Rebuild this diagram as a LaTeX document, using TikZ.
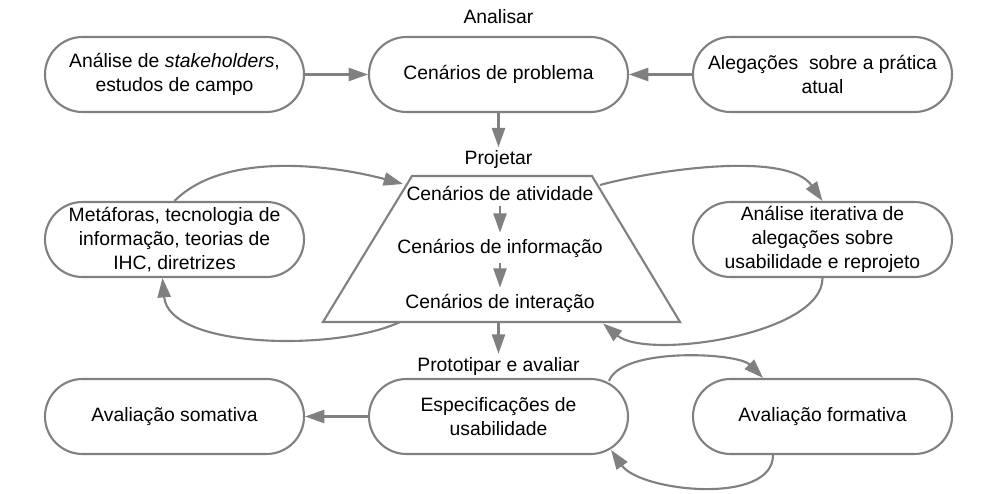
\documentclass[tikz,border=0pt]{standalone}
\usepackage{fontspec}
\setmainfont{Liberation Sans}
\usetikzlibrary{arrows.meta}
\definecolor{linegray}{RGB}{128,128,128}

\begin{document}
\begin{tikzpicture}[
  font=\fontsize{11}{13.5}\selectfont,
  box/.style={draw=linegray,line width=1.2pt,rounded corners=0.75cm,minimum width=5.18cm,minimum height=1.5cm,align=center,inner sep=0pt},
  flow/.style={draw=linegray,line width=1.2pt,-{Triangle[length=11pt,width=7.5pt]}},
  phase/.style={inner sep=2pt}
]
\useasboundingbox (0,0) rectangle (20,-9.88);
% Analisar
\node[phase] (analisar) at (9.97,-0.34) {Analisar};
\node[box] (stake) at (3.49,-1.49) {Análise de \textit{stakeholders},\\estudos de campo};
\node[box] (prob) at (9.97,-1.49) {Cenários de problema};
\node[box] (aleg) at (16.45,-1.49) {Alegações\ \ sobre a prática\\atual};
\draw[flow] (stake) -- (prob);
\draw[flow] (aleg) -- (prob);
% Projetar
\node[phase] (projetar) at (9.97,-3.2) {Projetar};
\draw[flow] (prob) -- (projetar);
\coordinate (tl) at (8.24,-3.52);
\coordinate (tr) at (11.84,-3.52);
\coordinate (br) at (13.6,-6.44);
\coordinate (bl) at (6.46,-6.44);
\draw[draw=linegray,line width=1.2pt] (tl) -- (tr) -- (br) -- (bl) -- cycle;
\node (act) at (10,-3.86) {Cenários de atividade};
\node (inf) at (10,-4.96) {Cenários de informação};
\node (int) at (10,-6.06) {Cenários de interação};
\draw[flow] (act) -- (inf);
\draw[flow] (inf) -- (int);
\node[box] (met) at (3.49,-4.79) {Metáforas, tecnologia de\\informação, teorias de\\IHC, diretrizes};
\node[box] (iter) at (16.45,-4.79) {Análise iterativa de\\alegações sobre\\usabilidade e reprojeto};
\coordinate (tlin) at (8.06,-3.68);
\coordinate (trout) at (12.0,-3.7);
\coordinate (brin) at (12.06,-6.47);
\coordinate (blout) at (8.0,-6.44);
\coordinate (bmid) at (9.97,-6.44);
\draw[flow] (met.north) to[out=45,in=165,looseness=0.8] (tlin);
\draw[flow] (trout) to[out=15,in=125,looseness=0.7] (iter.north);
\draw[flow] (iter.south) to[out=-90,in=-40,looseness=0.65] (brin);
\draw[flow] (blout) to[out=-155,in=-85,looseness=0.75] ([xshift=-0.24cm]met.south);
% Prototipar e avaliar
\node[phase] (prototipar) at (9.97,-7.33) {Prototipar e avaliar};
\draw[flow] (bmid) -- (prototipar);
\node[box] (soma) at (3.49,-8.33) {Avaliação somativa};
\node[box] (spec) at (9.97,-8.33) {Especificações de\\usabilidade};
\node[box] (form) at (16.45,-8.33) {Avaliação formativa};
\draw[flow] (spec) -- (soma);
\draw[flow] ([shift={(-0.4,-0.06)}]spec.north east) to[out=70,in=135,looseness=0.6] ([xshift=-1.19cm]form.north);
\draw[flow] ([xshift=-0.99cm]form.south) to[out=-90,in=-55,looseness=0.8] ([shift={(-0.36,0.1)}]spec.south east);
\end{tikzpicture}
\end{document}
